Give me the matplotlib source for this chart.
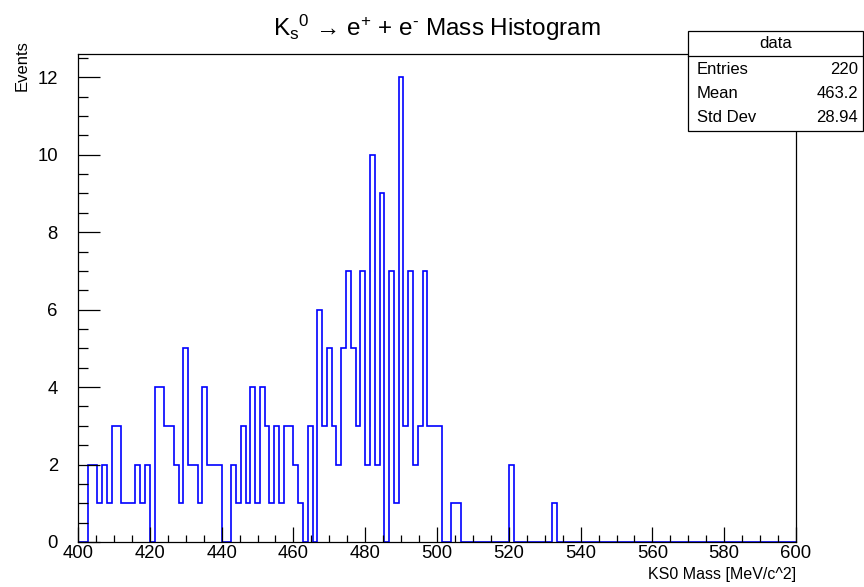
import numpy as np
import matplotlib
matplotlib.use("Agg")
import matplotlib.pyplot as plt
from matplotlib.ticker import MultipleLocator
from matplotlib.patches import Rectangle
from matplotlib.lines import Line2D

plt.rcParams['font.family'] = ['Liberation Sans', 'DejaVu Sans']
plt.rcParams['mathtext.fontset'] = 'custom'
plt.rcParams['mathtext.rm'] = 'Liberation Sans'
plt.rcParams['mathtext.it'] = 'Liberation Sans:italic'

# histogram: 150 bins from 400 to 600 MeV
x_lo, x_hi, n_bins = 400, 600, 150
counts = [
    0, 0, 2, 2, 1, 2, 1, 3, 3, 1,
    1, 1, 2, 1, 2, 0, 4, 4, 3, 3,
    2, 1, 5, 2, 2, 1, 4, 2, 2, 2,
    0, 0, 2, 1, 3, 1, 4, 1, 4, 3,
    1, 3, 1, 3, 3, 2, 1, 0, 3, 0,
    6, 3, 5, 3, 2, 5, 7, 5, 3, 7,
    2, 10, 2, 9, 0, 7, 1, 12, 3, 7,
    2, 3, 7, 3, 3, 3, 0, 0, 1, 1,
    0, 0, 0, 0, 0, 0, 0, 0, 0, 0,
    2, 0, 0, 0, 0, 0, 0, 0, 0, 1,
    0, 0, 0, 0, 0, 0, 0, 0, 0, 0,
    0, 0, 0, 0, 0, 0, 0, 0, 0, 0,
    0, 0, 0, 0, 0, 0, 0, 0, 0, 0,
    0, 0, 0, 0, 0, 0, 0, 0, 0, 0,
    0, 0, 0, 0, 0, 0, 0, 0, 0, 0,
]
stat_names = ["Entries", "Mean", "Std Dev"]
stat_values = ["220", "463.2", "28.94"]

W, H = 864, 587
fig = plt.figure(figsize=(W / 100, H / 100), dpi=100)
ax = fig.add_axes([78 / W, 1 - 542 / H, 718 / W, 488 / H])

edges = np.linspace(x_lo, x_hi, n_bins + 1)
ax.stairs(counts, edges, color="#0000ff", lw=1.2, baseline=0)

ax.set_xlim(x_lo, x_hi)
ax.set_ylim(0, 12.6)
ax.xaxis.set_major_locator(MultipleLocator(20))
ax.xaxis.set_minor_locator(MultipleLocator(5))
ax.yaxis.set_major_locator(MultipleLocator(2))
ax.yaxis.set_minor_locator(MultipleLocator(0.5))
ax.tick_params(which="both", direction="in", top=False, right=False,
               labelsize=13.3, width=0.9, colors="black")
ax.xaxis.set_tick_params(which="major", length=10.5, pad=2)
ax.xaxis.set_tick_params(which="minor", length=5.4)
ax.yaxis.set_tick_params(which="major", length=15.5, pad=14.5)
ax.yaxis.set_tick_params(which="minor", length=7.2)
for s in ax.spines.values():
    s.set_linewidth(0.9)

fig.text(796 / W, 1 - 575 / H, "KS0 Mass [MeV/c^2]", ha="right", va="center",
         fontsize=11.5)
fig.text(22 / W, 1 - 40 / H, "Events", rotation=90, ha="center", va="top",
         fontsize=12)
fig.text(437 / W, 1 - 28 / H,
         r"K$_{\mathrm{s}}$$^{0}$ → e$^{+}$ + e$^{\text{-}}$ Mass Histogram",
         ha="center", va="center", fontsize=17.5)

# stats box
bx0, by_top, by_bot, bx1 = 688, 31, 131, 863
fig.patches.append(Rectangle((bx0 / W, 1 - by_bot / H), (bx1 - bx0) / W,
                             (by_bot - by_top) / H, transform=fig.transFigure,
                             facecolor="white", edgecolor="black", lw=0.9,
                             zorder=5))
fig.lines.append(Line2D([bx0 / W, bx1 / W], [1 - 56 / H, 1 - 56 / H],
                        transform=fig.transFigure, color="black", lw=0.9,
                        zorder=6))
fig.text((bx0 + bx1) / 2 / W, 1 - 43.5 / H, "data", ha="center", va="center",
         fontsize=12, zorder=7)
for i, (name, val) in enumerate(zip(stat_names, stat_values)):
    yy = 1 - (69 + 24.5 * i) / H
    fig.text(697 / W, yy, name, ha="left", va="center", fontsize=12, zorder=7)
    fig.text(858 / W, yy, val, ha="right", va="center", fontsize=12, zorder=7)

fig.savefig("out.png", dpi=100)
